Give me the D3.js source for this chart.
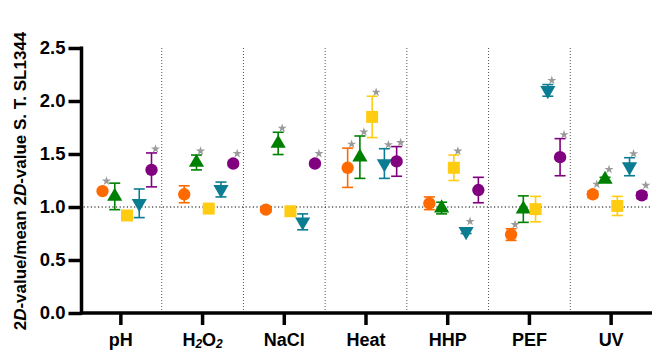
<!DOCTYPE html>
<html>
<head>
<meta charset="utf-8">
<script src="https://cdn.jsdelivr.net/npm/d3@7"></script>
<style>
  body { margin: 0; background: #fff; }
  text { font-family: "Liberation Sans", Arial, sans-serif; }
</style>
</head>
<body>
<script>
// categories and tick labels
const categories = ["pH", "H2O2", "NaCl", "Heat", "HHP", "PEF", "UV"];
const yTicks = [0, 0.5, 1.0, 1.5, 2.0, 2.5];

// series: mean, error, significance
const seriesNames = ["s1", "s2", "s3", "s4", "s5"];
const s1Mean = [1.15, 1.12, 0.975, 1.37, 1.035, 0.74, 1.12];
const s1Err  = [0.02, 0.08, 0.02, 0.185, 0.06, 0.055, 0.03];
const s1Sig  = [1, 0, 0, 1, 0, 1, 1];
const s2Mean = [1.10, 1.42, 1.60, 1.47, 0.99, 0.98, 1.26];
const s2Err  = [0.125, 0.07, 0.105, 0.2, 0.055, 0.125, 0.02];
const s2Sig  = [0, 1, 1, 1, 0, 0, 1];
const s3Mean = [0.92, 0.985, 0.96, 1.85, 1.37, 0.98, 1.01];
const s3Err  = [0.02, 0.02, 0.02, 0.195, 0.12, 0.12, 0.09];
const s3Sig  = [0, 0, 0, 1, 1, 0, 0];
const s4Mean = [1.035, 1.165, 0.86, 1.41, 0.77, 2.10, 1.38];
const s4Err  = [0.135, 0.07, 0.075, 0.14, 0.02, 0.055, 0.085];
const s4Sig  = [0, 0, 0, 1, 1, 1, 1];
const s5Mean = [1.35, 1.41, 1.41, 1.43, 1.16, 1.47, 1.11];
const s5Err  = [0.16, 0.02, 0.02, 0.14, 0.12, 0.175, 0.03];
const s5Sig  = [1, 1, 1, 1, 0, 1, 1];

const series = [
  {name: "s1", mean: s1Mean, err: s1Err, sig: s1Sig, color: "#ff6a00", shape: d3.symbolCircle, size: 120, rot: 0},
  {name: "s2", mean: s2Mean, err: s2Err, sig: s2Sig, color: "#008000", shape: d3.symbolTriangle, size: 100, rot: 0},
  {name: "s3", mean: s3Mean, err: s3Err, sig: s3Sig, color: "#ffcc12", shape: d3.symbolSquare, size: 144, rot: 0},
  {name: "s4", mean: s4Mean, err: s4Err, sig: s4Sig, color: "#0a7d93", shape: d3.symbolTriangle, size: 100, rot: 180},
  {name: "s5", mean: s5Mean, err: s5Err, sig: s5Sig, color: "#800080", shape: d3.symbolCircle, size: 120, rot: 0}
];

const W = 652, H = 350;

const svg = d3.select("body").append("svg")
  .attr("width", W).attr("height", H);

const x = d3.scaleBand().domain(categories).range([80, 652]).padding(0);
const xs = d3.scalePoint().domain(seriesNames).range([22.5, 71.5]);
const y = d3.scaleLinear().domain([0, 2.5]).range([313, 48]);

// group separators
svg.append("g").selectAll("line")
  .data(categories.slice(1))
  .enter().append("line")
  .attr("x1", d => x(d)).attr("x2", d => x(d))
  .attr("y1", y(2.5)).attr("y2", y(0))
  .attr("stroke", "#555").attr("stroke-width", 1)
  .attr("stroke-dasharray", "1,2");

// reference line at 1.0
svg.append("line")
  .attr("x1", 80).attr("x2", 652)
  .attr("y1", y(1)).attr("y2", y(1))
  .attr("stroke", "#000").attr("stroke-width", 1.2)
  .attr("stroke-dasharray", "1.2,2.4");

// marks
series.forEach(s => {
  const g = svg.append("g");
  const pts = categories.map((c, i) => ({
    cx: x(c) + xs(s.name),
    m: s.mean[i], e: s.err[i], sig: s.sig[i]
  }));

  const eb = g.selectAll(".eb").data(pts).enter().append("g")
    .attr("stroke", s.color).attr("stroke-width", 1.6);
  eb.append("line")
    .attr("x1", d => d.cx).attr("x2", d => d.cx)
    .attr("y1", d => y(d.m + d.e)).attr("y2", d => y(d.m - d.e));
  eb.append("line")
    .attr("x1", d => d.cx - 5.5).attr("x2", d => d.cx + 5.5)
    .attr("y1", d => y(d.m + d.e)).attr("y2", d => y(d.m + d.e));
  eb.append("line")
    .attr("x1", d => d.cx - 5.5).attr("x2", d => d.cx + 5.5)
    .attr("y1", d => y(d.m - d.e)).attr("y2", d => y(d.m - d.e));

  g.selectAll(".pt").data(pts).enter().append("path")
    .attr("d", d3.symbol().type(s.shape).size(s.size))
    .attr("transform", d => "translate(" + d.cx + "," + y(d.m) + ") rotate(" + s.rot + ")")
    .attr("fill", s.color);

  g.selectAll(".star").data(pts.filter(d => d.sig)).enter().append("path")
    .attr("d", d3.symbol().type(d3.symbolStar).size(26))
    .attr("transform", d => {
      const top = Math.min(y(d.m + d.e), y(d.m) - 6);
      return "translate(" + (d.cx + 4) + "," + (top - 4) + ")";
    })
    .attr("fill", "#9a9a9a");
});

// y axis
const yAxis = svg.append("g")
  .attr("transform", "translate(81.5,0)")
  .call(d3.axisLeft(y).tickValues(yTicks).tickFormat(d3.format(".1f")).tickSize(13).tickSizeOuter(0).tickPadding(3));
yAxis.select(".domain").attr("stroke-width", 3.5).attr("d", "M0," + (y(2.5) - 1.5) + "V" + (y(0) + 1.5));
yAxis.selectAll(".tick line").attr("stroke-width", 3.5);
yAxis.selectAll(".tick text")
  .attr("font-size", 18.5).attr("font-weight", "bold").attr("fill", "#000")
  .style("font-family", "Liberation Sans, Arial, sans-serif");

// x axis
const xAxis = svg.append("g")
  .attr("transform", "translate(0,313)")
  .call(d3.axisBottom(x).tickSize(12).tickSizeOuter(0).tickFormat(""));
xAxis.select(".domain").attr("stroke-width", 3.5).attr("d", "M80,0H652");
xAxis.selectAll(".tick line").attr("stroke-width", 3.5);

const xl = svg.append("g").selectAll("text")
  .data(categories).enter().append("text")
  .attr("x", d => x(d) + x.bandwidth() / 2)
  .attr("y", 346)
  .attr("text-anchor", "middle")
  .attr("font-size", 18).attr("font-weight", "bold");
xl.each(function(d) {
  const t = d3.select(this);
  if (d === "H2O2") {
    t.append("tspan").text("H");
    t.append("tspan").text("2").attr("font-size", 12).attr("font-style", "italic").attr("dy", 2);
    t.append("tspan").text("O").attr("dy", -2);
    t.append("tspan").text("2").attr("font-size", 12).attr("font-style", "italic").attr("dy", 2);
  } else {
    t.text(d);
  }
});

// y label
const yl = svg.append("text")
  .attr("transform", "translate(26,181) rotate(-90)")
  .attr("text-anchor", "middle")
  .attr("font-size", 17).attr("font-weight", "bold");
yl.append("tspan").text("2");
yl.append("tspan").text("D").attr("font-style", "italic");
yl.append("tspan").text("-value/mean 2");
yl.append("tspan").text("D").attr("font-style", "italic");
yl.append("tspan").text("-value S. T. SL1344");
</script>
</body>
</html>
